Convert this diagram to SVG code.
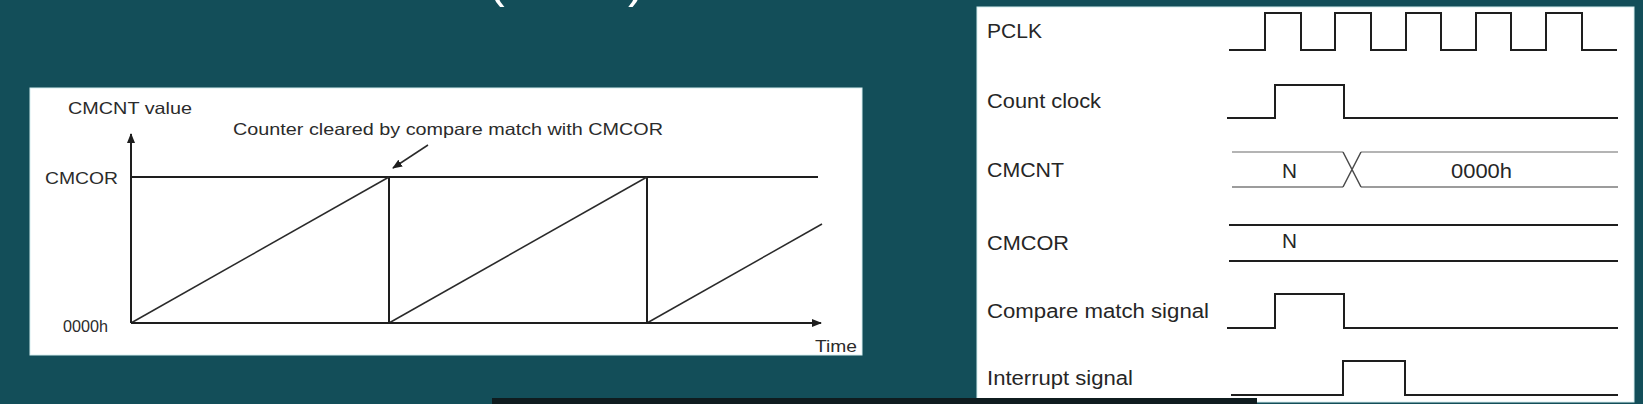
<svg xmlns="http://www.w3.org/2000/svg" width="1643" height="404" viewBox="0 0 1643 404">
<style>
.bg{fill:#134e59}
.panel{fill:#ffffff;stroke:#d6eef0;stroke-width:1}
.ln{fill:none;stroke:#1e1e1e;stroke-width:2;stroke-linejoin:miter}
.thin{fill:none;stroke:#2a2a2a;stroke-width:1.5}
.lt{font-family:"Liberation Sans",Arial,sans-serif;font-size:16.5px;fill:#2b2b2b}
.rt{font-family:"Liberation Sans",Arial,sans-serif;font-size:20px;fill:#262626}
.title{font-family:"Liberation Sans",Arial,sans-serif;font-size:50px;fill:#ffffff}
</style>
<defs>
<marker id="ah" markerWidth="10" markerHeight="8" refX="9" refY="4" orient="auto" markerUnits="userSpaceOnUse">
<path d="M0,0 L10,4 L0,8 Z" fill="#1e1e1e"/>
</marker>
</defs>
<rect class="bg" x="0" y="0" width="1643" height="404"/>
<g id="title">
<text class="title" x="488" y="-3">(</text>
<text class="title" x="628" y="-3">)</text>
</g>

<g id="counter-chart">
<rect class="panel" x="30" y="88" width="832" height="267"/>
<line class="ln" x1="131" y1="177" x2="818" y2="177"/>
<line class="ln" x1="389" y1="177" x2="389" y2="323"/>
<line class="ln" x1="647" y1="177" x2="647" y2="323"/>
<line class="thin" x1="131" y1="323" x2="389" y2="177"/>
<line class="thin" x1="389" y1="323" x2="647" y2="177"/>
<line class="thin" x1="647" y1="323" x2="822" y2="224"/>
<text class="lt" x="68" y="114" textLength="124" lengthAdjust="spacingAndGlyphs">CMCNT value</text>
<text class="lt" x="233" y="135" textLength="430" lengthAdjust="spacingAndGlyphs">Counter cleared by compare match with CMCOR</text>
<text class="lt" x="45" y="184" textLength="73" lengthAdjust="spacingAndGlyphs">CMCOR</text>
<text class="lt" x="63" y="332" textLength="45" lengthAdjust="spacingAndGlyphs">0000h</text>
<text class="lt" x="815" y="352" textLength="42" lengthAdjust="spacingAndGlyphs">Time</text>
</g>

<g id="timing-panel">
<rect class="panel" x="977" y="7" width="657" height="395"/>
</g>
<g id="sig-pclk">
<text class="rt" x="987" y="38" textLength="55" lengthAdjust="spacingAndGlyphs">PCLK</text>
<path class="ln" d="M1229,50 H1265 V13 H1301 V50 H1335 V13 H1371 V50 H1406 V13 H1441 V50 H1476 V13 H1511 V50 H1546 V13 H1582 V50 H1617"/>
</g>
<g id="sig-count-clock">
<text class="rt" x="987" y="108" textLength="114" lengthAdjust="spacingAndGlyphs">Count clock</text>
<path class="ln" d="M1227,118 H1275 V85 H1344 V118 H1618"/>
</g>
<g id="sig-cmcnt">
<text class="rt" x="987" y="177" textLength="77" lengthAdjust="spacingAndGlyphs">CMCNT</text>
<path d="M1232,152 H1343 M1361,152 H1618" fill="none" stroke="#b4b4b4" stroke-width="2"/>
<path d="M1232,187 H1343 M1361,187 H1618" fill="none" stroke="#9c9c9c" stroke-width="2"/>
<path d="M1343,152 L1361,187 M1343,187 L1361,152" fill="none" stroke="#4a4a4a" stroke-width="1.5"/>
<text class="rt" x="1282" y="178" textLength="15" lengthAdjust="spacingAndGlyphs">N</text>
<text class="rt" x="1451" y="178" textLength="61" lengthAdjust="spacingAndGlyphs">0000h</text>
</g>
<g id="sig-cmcor">
<text class="rt" x="987" y="250" textLength="82" lengthAdjust="spacingAndGlyphs">CMCOR</text>
<line class="ln" x1="1229" y1="225" x2="1618" y2="225"/>
<line class="ln" x1="1229" y1="261" x2="1618" y2="261"/>
<text class="rt" x="1282" y="248" textLength="15" lengthAdjust="spacingAndGlyphs">N</text>
</g>
<g id="sig-compare-match">
<text class="rt" x="987" y="318" textLength="222" lengthAdjust="spacingAndGlyphs">Compare match signal</text>
<path class="ln" d="M1227,328 H1275 V294 H1344 V328 H1618"/>
</g>
<g id="sig-interrupt">
<text class="rt" x="987" y="385" textLength="146" lengthAdjust="spacingAndGlyphs">Interrupt signal</text>
<path class="ln" d="M1231,395 H1343 V361 H1405 V395 H1618"/>
</g>

<g id="connectors">
<line class="ln" x1="131" y1="323" x2="821" y2="323" marker-end="url(#ah)"/>
<line class="ln" x1="131" y1="323" x2="131" y2="134" marker-end="url(#ah)"/>
<line class="thin" x1="428" y1="145" x2="393" y2="168" marker-end="url(#ah)"/>
</g>
<rect x="492" y="398" width="765" height="6" fill="#0f1c1f"/>
</svg>
